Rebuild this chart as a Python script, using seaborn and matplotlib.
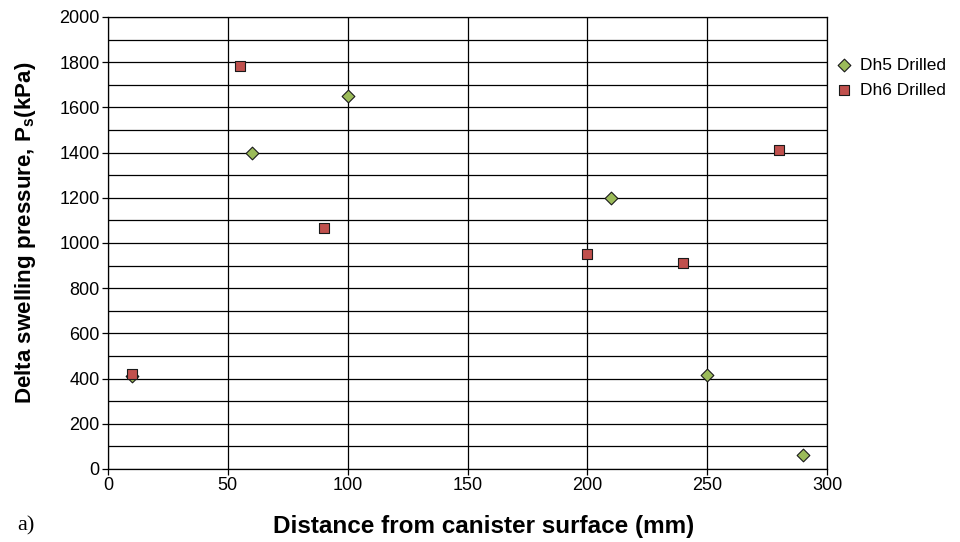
import matplotlib
matplotlib.use("Agg")
import matplotlib.pyplot as plt
import seaborn as sns
import pandas as pd
import numpy as np

dh5_x = [10, 60, 100, 210, 250, 290]
dh5_y = [410, 1400, 1650, 1200, 418, 60]
dh6_x = [10, 55, 90, 200, 240, 280]
dh6_y = [420, 1785, 1068, 951, 911, 1412]
series_names = ["Dh5 Drilled", "Dh6 Drilled"]

df5 = pd.DataFrame({"x": dh5_x, "y": dh5_y, "series": series_names[0]})
df6 = pd.DataFrame({"x": dh6_x, "y": dh6_y, "series": series_names[1]})

sns.set_style("white")
plt.rcParams['font.family'] = ['Liberation Sans', 'DejaVu Sans']
plt.rcParams['text.color'] = 'black'
plt.rcParams['axes.labelcolor'] = 'black'
plt.rcParams['xtick.color'] = 'black'
plt.rcParams['ytick.color'] = 'black'
plt.rcParams['mathtext.fontset'] = 'custom'
plt.rcParams['mathtext.bf'] = 'Liberation Sans:bold'
plt.rcParams['mathtext.rm'] = 'Liberation Sans'

fig = plt.figure(figsize=(9.6, 5.42), dpi=100)
ax = fig.add_axes([0.1125, 0.1347, 0.749, 0.834])

sns.scatterplot(data=df5, x="x", y="y", color="#9BBB59", marker="D", s=42,
                edgecolor="#1a1a1a", linewidth=0.8, ax=ax, zorder=3, label=series_names[0])
sns.scatterplot(data=df6, x="x", y="y", color="#C0504D", marker="s", s=60,
                edgecolor="#1a1a1a", linewidth=0.8, ax=ax, zorder=3, label=series_names[1])

ax.set_xlim(0, 300)
ax.set_ylim(0, 2000)
ax.set_xticks(np.arange(0, 301, 50))
ax.set_yticks(np.arange(0, 2001, 200))
ax.set_yticks(np.arange(0, 2001, 100), minor=True)
ax.grid(True, which="major", color="black", linewidth=0.9)
ax.grid(True, which="minor", axis="y", color="black", linewidth=0.9)
ax.set_axisbelow(True)
for sp in ax.spines.values():
    sp.set_color("black")
    sp.set_linewidth(0.9)
ax.tick_params(axis="both", which="major", direction="out", length=4, width=0.9,
               color="black", labelsize=13, labelcolor="black", bottom=True, left=True, pad=2)
ax.tick_params(axis="y", which="minor", length=0)

ax.set_xlabel("Distance from canister surface (mm)", fontsize=17.5, fontweight="bold")
ax.set_ylabel(r"Delta swelling pressure, P$_{\mathbf{s}}$(kPa)", fontsize=16.1, fontweight="bold")
ax.xaxis.set_label_coords(0.523, -0.102)
ax.yaxis.set_label_coords(-0.097, 0.522)

leg = ax.legend(loc="upper left", bbox_to_anchor=(1.0125, 0.91), borderaxespad=0,
                borderpad=0, frameon=False, fontsize=12.5, handletextpad=0.45,
                labelspacing=0.55, handlelength=0.95)

fig.text(17 / 960, 1 - 526 / 542, "a)", fontsize=16, family=["Liberation Serif", "DejaVu Serif"],
         va="center", ha="left")

fig.savefig("out.png", dpi=100)
